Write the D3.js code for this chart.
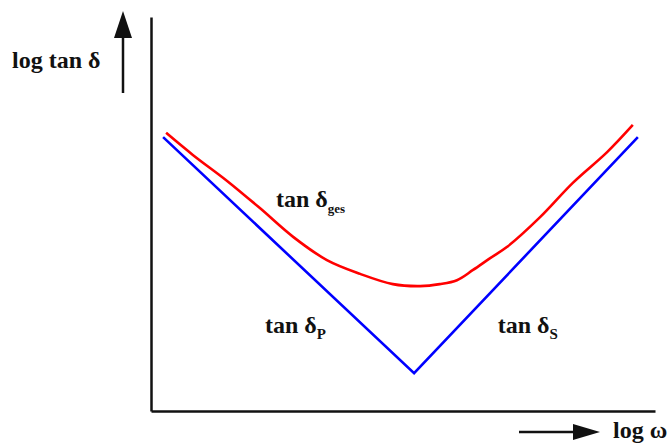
<!DOCTYPE html>
<html>
<head>
<meta charset="utf-8">
<script src="https://cdn.jsdelivr.net/npm/d3@7"></script>
<style>
  body { margin: 0; background: #fff; }
  text { font-family: "Liberation Serif", "Times New Roman", serif; fill: #111; font-weight: bold; }
</style>
</head>
<body>
<script>
// schematic values, arbitrary log units (0..100 on both axes)
var blueX = [2.4, 52.2, 96.6];
var blueY = [69.5, 9.6, 69.5];

var redX = [3.0, 8.3, 15.1, 21.6, 28.2, 34.9, 41.5, 48.0, 53.4, 57.3, 60.7, 63.9, 67.3, 70.6, 77.2, 83.7, 90.5, 95.6];
var redY = [70.6, 65.0, 58.4, 51.5, 44.2, 38.3, 34.8, 32.2, 31.7, 32.2, 33.2, 35.8, 38.8, 41.6, 49.2, 57.9, 65.7, 72.6];

// curve labels: main text, subscript, position
var labelMain = ["tan δ", "tan δ", "tan δ"];
var labelSub = ["ges", "P", "S"];
var labelX = [24.8, 22.6, 68.8];
var labelY = [51.8, 19.8, 19.8];

var width = 672, height = 444;
var margin = {top: 17, right: 17, bottom: 33, left: 151};

var svg = d3.select("body").append("svg")
    .attr("width", width)
    .attr("height", height);

var x = d3.scaleLinear().domain([0, 100]).range([margin.left, width - margin.right]);
var y = d3.scaleLinear().domain([0, 100]).range([height - margin.bottom, margin.top]);

// axes: plain lines, no ticks
svg.append("g")
    .attr("transform", "translate(0," + y(0) + ")")
    .call(d3.axisBottom(x).ticks(0).tickSizeOuter(0));
svg.append("g")
    .attr("transform", "translate(" + x(0) + ",0)")
    .call(d3.axisLeft(y).ticks(0).tickSizeOuter(0));
svg.selectAll(".domain")
    .attr("stroke", "#111")
    .attr("stroke-width", 2.5);

var line = d3.line()
    .x(function(d) { return x(d[0]); })
    .y(function(d) { return y(d[1]); });

var red = d3.zip(redX, redY);
var blue = d3.zip(blueX, blueY);

svg.append("path")
    .datum(blue)
    .attr("fill", "none")
    .attr("stroke", "#0000ff")
    .attr("stroke-width", 2.6)
    .attr("d", line);

svg.append("path")
    .datum(red)
    .attr("fill", "none")
    .attr("stroke", "#ff0000")
    .attr("stroke-width", 2.6)
    .attr("d", line.curve(d3.curveCatmullRom));

// curve labels
labelMain.forEach(function(t, i) {
  var txt = svg.append("text")
      .attr("x", x(labelX[i]))
      .attr("y", y(labelY[i]))
      .style("font-size", "24px");
  txt.append("tspan").text(t);
  txt.append("tspan")
      .attr("dy", 6)
      .style("font-size", i == 0 ? "13px" : "15px")
      .text(labelSub[i]);
});

// axis titles with arrows
svg.append("text")
    .attr("x", 12)
    .attr("y", 68)
    .style("font-size", "24px")
    .text("log tan δ");

svg.append("line")
    .attr("x1", 123).attr("x2", 123)
    .attr("y1", 93).attr("y2", 34)
    .attr("stroke", "#111")
    .attr("stroke-width", 2.5);
svg.append("path")
    .attr("d", "M123,11L132,38L114,38Z")
    .attr("fill", "#111");

svg.append("line")
    .attr("x1", 519).attr("x2", 578)
    .attr("y1", 432).attr("y2", 432)
    .attr("stroke", "#111")
    .attr("stroke-width", 2.5);
svg.append("path")
    .attr("d", "M600,432L573,424L573,440Z")
    .attr("fill", "#111");

svg.append("text")
    .attr("x", 613)
    .attr("y", 438)
    .style("font-size", "24px")
    .text("log ω");
</script>
</body>
</html>
